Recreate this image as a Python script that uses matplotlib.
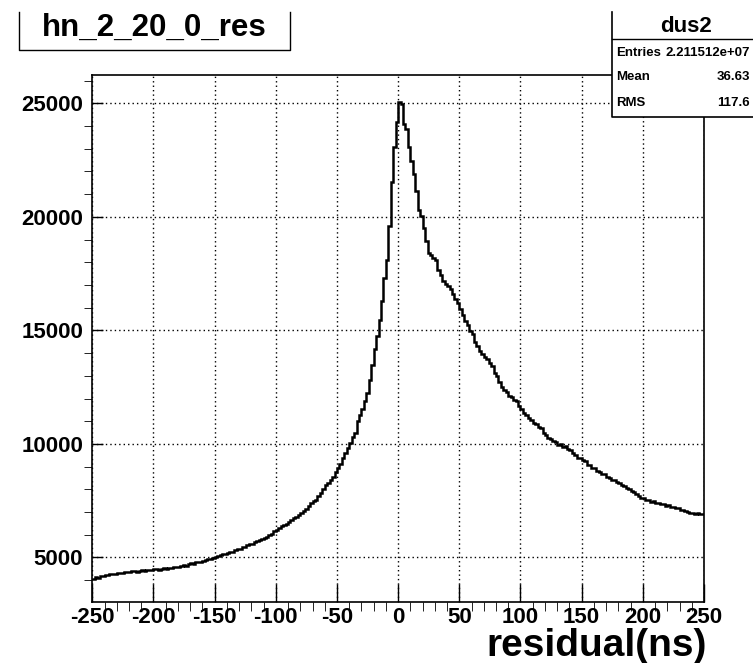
import numpy as np
import matplotlib
matplotlib.use('Agg')
import matplotlib.pyplot as plt
from matplotlib.ticker import MultipleLocator
from matplotlib.patches import Rectangle
from matplotlib.lines import Line2D

plt.rcParams['font.family'] = ['Liberation Sans', 'DejaVu Sans']
plt.rcParams['font.weight'] = 'bold'
plt.rcParams['axes.unicode_minus'] = False

# histogram hn_2_20_0_res, 2 ns bins from -250 to 250
x_lo, x_hi, n_bins = -250, 250, 250

# counts for bins -250 .. 0
counts_neg = [
    4060, 4130, 4110, 4180, 4200, 4240, 4230, 4270, 4290, 4260,
    4310, 4330, 4300, 4350, 4370, 4350, 4390, 4410, 4380, 4420,
    4440, 4410, 4450, 4430, 4460, 4470, 4490, 4460, 4500, 4520,
    4510, 4550, 4530, 4570, 4590, 4580, 4620, 4670, 4640, 4710,
    4740, 4720, 4790, 4810, 4780, 4860, 4890, 4910, 4950, 4990,
    5020, 5070, 5090, 5140, 5160, 5200, 5250, 5240, 5310, 5360,
    5390, 5440, 5480, 5530, 5600, 5610, 5660, 5720, 5760, 5800,
    5860, 5910, 5980, 6050, 6150, 6230, 6280, 6370, 6440, 6490,
    6580, 6640, 6740, 6790, 6880, 6970, 7060, 7120, 7260, 7380,
    7470, 7520, 7690, 7840, 8010, 8200, 8290, 8410, 8560, 8760,
    8920, 9110, 9390, 9580, 9820, 10020, 10310, 10480, 11010, 11290,
    11560, 11890, 12260, 12820, 13480, 14190, 14760, 15440, 16290, 17310,
    18120, 19620, 21520, 23080, 24160,
]
# counts for bins 0 .. 250
counts_pos = [
    25050, 24960, 24110, 23890, 23060, 22480, 21880, 21120, 20290, 20060,
    19510, 18920, 18410, 18330, 18190, 18120, 17680, 17430, 17160, 17040,
    16960, 16820, 16610, 16380, 16210, 15930, 15680, 15430, 15230, 14980,
    14820, 14490, 14330, 14080, 13970, 13840, 13720, 13580, 13420, 13130,
    12970, 12730, 12520, 12380, 12270, 12130, 12080, 11930, 11870, 11690,
    11560, 11380, 11270, 11130, 11070, 10930, 10880, 10760, 10680, 10490,
    10380, 10270, 10230, 10120, 10070, 9960, 9990, 9880, 9890, 9780,
    9720, 9580, 9530, 9400, 9380, 9290, 9230, 9080, 9070, 8960,
    8920, 8800, 8770, 8660, 8670, 8560, 8520, 8430, 8420, 8340,
    8300, 8190, 8150, 8040, 8020, 7930, 7900, 7780, 7720, 7630,
    7620, 7540, 7530, 7460, 7470, 7400, 7410, 7340, 7350, 7280,
    7290, 7220, 7230, 7170, 7190, 7110, 7090, 7030, 7020, 6950,
    6970, 6930, 6940, 6910, 6900,
]

hist_name = 'hn_2_20_0_res'
stats_title = 'dus2'
stats_rows = [('Entries', '2.211512e+07'), ('Mean', '36.63'), ('RMS', '117.6')]
x_label = 'residual(ns)'

W, H = 753, 663
def fx(p):
    return p / W
def fy(p):
    return 1 - p / H

counts = np.array(counts_neg + counts_pos)
edges = np.linspace(x_lo, x_hi, n_bins + 1)

fig = plt.figure(figsize=(W / 100, H / 100), dpi=100)
ax = fig.add_axes([fx(92.3), fy(601.7), fx(704) - fx(92.3), fy(75) - fy(601.7)])

ax.stairs(counts, edges, baseline=None, color='black', linewidth=1.8, zorder=3)

ax.set_xlim(x_lo, x_hi)
ax.set_ylim(3050, 26250)
ax.xaxis.set_major_locator(MultipleLocator(50))
ax.xaxis.set_minor_locator(MultipleLocator(10))
ax.yaxis.set_major_locator(MultipleLocator(5000))
ax.yaxis.set_minor_locator(MultipleLocator(1000))

ax.grid(True, which='major', color='black', linestyle=(0, (1, 2.2)), linewidth=1.0, zorder=1)
ax.tick_params(direction='in', top=False, right=False, labelsize=16, width=1.0)
ax.tick_params(axis='x', which='major', length=13, pad=3.5)
ax.tick_params(axis='x', which='minor', length=6.5)
ax.tick_params(axis='y', which='major', length=8, pad=6.5)
ax.tick_params(axis='y', which='minor', length=6)
for s in ax.spines.values():
    s.set_linewidth(1.2)

# x axis title, right aligned
fig.text(fx(707), fy(656.5), x_label, ha='right', va='baseline', fontsize=28, fontweight='bold')

# title box
fig.lines.append(Line2D([fx(19), fx(19), fx(290), fx(290)], [fy(12), fy(50), fy(50), fy(12)],
                        transform=fig.transFigure, color='black', linewidth=1.0))
fig.text(fx(154), fy(36), hist_name, ha='center', va='baseline', fontsize=22.5, fontweight='bold')

# stats box
fig.patches.append(Rectangle((fx(612), fy(117)), fx(160), fy(12) - fy(117), transform=fig.transFigure,
                             facecolor='white', edgecolor='none', zorder=5))
fig.lines.append(Line2D([fx(612), fx(612), fx(760)], [fy(12), fy(117), fy(117)],
                        transform=fig.transFigure, color='black', linewidth=1.2, zorder=6))
fig.lines.append(Line2D([fx(612), fx(760)], [fy(39), fy(39)],
                        transform=fig.transFigure, color='black', linewidth=1.0, zorder=6))
fig.text(fx(686), fy(32), stats_title, ha='center', va='baseline', fontsize=16, fontweight='bold', zorder=7)
for (lab, val), yy in zip(stats_rows, [56, 80, 106]):
    fig.text(fx(616), fy(yy), lab, ha='left', va='baseline', fontsize=9.5, fontweight='bold', zorder=7)
    fig.text(fx(750), fy(yy), val, ha='right', va='baseline', fontsize=9.5, fontweight='bold', zorder=7)

fig.savefig('out.png', dpi=100)
